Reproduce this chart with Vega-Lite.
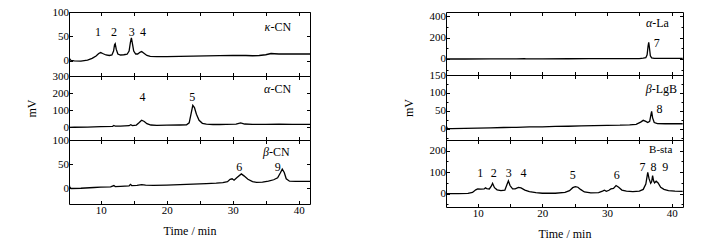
{
"$schema": "https://vega.github.io/schema/vega-lite/v6.json",
"padding": {"left": 24, "top": 5, "right": 5, "bottom": 2},
"config": {
  "font": "Liberation Serif",
  "view": {"stroke": "black", "strokeWidth": 1},
  "axis": {"labelFont": "Liberation Serif", "titleFont": "Liberation Serif", "labelFontSize": 11, "titleFontSize": 12, "titleFontWeight": "normal", "labelColor": "black", "titleColor": "black", "tickColor": "black", "domain": false, "grid": false, "labelFlush": false, "labelOverlap": false, "tickSize": -3.5, "labelPadding": 4},
  "text": {"font": "Liberation Serif", "color": "black"},
  "line": {"color": "black", "strokeWidth": 1.3}
},
"datasets": {
  "kappa": [
    {"t":5.2,"v":9},{"t":5.3,"v":4},{"t":5.5,"v":1},{"t":6,"v":0},{"t":7,"v":-0.5},{"t":8,"v":1.5},{"t":8.7,"v":5},{"t":9.3,"v":10},{"t":9.7,"v":15},{"t":10.0,"v":17},{"t":10.3,"v":15},{"t":10.8,"v":12},{"t":11.3,"v":11},{"t":11.7,"v":12},{"t":11.95,"v":20},{"t":12.1,"v":33},{"t":12.2,"v":35},{"t":12.35,"v":24},{"t":12.6,"v":14},{"t":13.0,"v":12},{"t":13.5,"v":12.5},{"t":14.0,"v":13.5},{"t":14.3,"v":20},{"t":14.5,"v":38},{"t":14.65,"v":47},{"t":14.8,"v":36},{"t":15.0,"v":20},{"t":15.3,"v":14},{"t":15.6,"v":14},{"t":16.0,"v":18},{"t":16.2,"v":19},{"t":16.5,"v":16},{"t":17.0,"v":11},{"t":17.5,"v":9},{"t":18.5,"v":8.5},{"t":20,"v":8.5},{"t":22,"v":9},{"t":24,"v":9.5},{"t":26,"v":10},{"t":28,"v":10.5},{"t":30,"v":11},{"t":32,"v":11},{"t":33,"v":10.5},{"t":34,"v":11},{"t":35,"v":12.5},{"t":35.8,"v":15},{"t":36.3,"v":14.5},{"t":37,"v":14},{"t":38,"v":14},{"t":40,"v":14},{"t":41.7,"v":14}
  ],
  "alphaCN": [
    {"t":5.2,"v":-2},{"t":6,"v":-1},{"t":8,"v":0},{"t":10,"v":2},{"t":11.8,"v":4},{"t":12.0,"v":9},{"t":12.2,"v":5},{"t":13,"v":6},{"t":14.3,"v":8},{"t":14.55,"v":14},{"t":14.8,"v":9},{"t":15.4,"v":12},{"t":15.8,"v":25},{"t":16.2,"v":40},{"t":16.6,"v":33},{"t":17.0,"v":20},{"t":17.6,"v":12},{"t":18.5,"v":10},{"t":20,"v":11},{"t":22,"v":12},{"t":23.0,"v":13},{"t":23.4,"v":25},{"t":23.7,"v":80},{"t":23.95,"v":128},{"t":24.2,"v":115},{"t":24.5,"v":75},{"t":24.9,"v":40},{"t":25.4,"v":22},{"t":26,"v":17},{"t":27,"v":15},{"t":28,"v":15},{"t":29,"v":15.5},{"t":30.5,"v":17},{"t":31.2,"v":25},{"t":31.8,"v":18},{"t":33,"v":16},{"t":35,"v":16},{"t":37,"v":16.5},{"t":39,"v":16},{"t":41.7,"v":16}
  ],
  "betaCN": [
    {"t":5.2,"v":12},{"t":5.3,"v":3},{"t":5.5,"v":0},{"t":7,"v":0.5},{"t":9,"v":2},{"t":10,"v":3},{"t":11.5,"v":3.5},{"t":12.0,"v":6},{"t":12.2,"v":4},{"t":13,"v":4.5},{"t":14.3,"v":5.5},{"t":14.5,"v":8.5},{"t":14.7,"v":6},{"t":15.5,"v":6.5},{"t":16.2,"v":8},{"t":16.8,"v":7},{"t":18,"v":6.5},{"t":20,"v":7},{"t":22,"v":8},{"t":24,"v":9},{"t":26,"v":10},{"t":27.5,"v":11},{"t":28.5,"v":12},{"t":29.2,"v":14},{"t":29.6,"v":19},{"t":29.9,"v":20},{"t":30.2,"v":17},{"t":30.6,"v":22},{"t":31.3,"v":30},{"t":31.7,"v":26},{"t":32.3,"v":19},{"t":33,"v":14},{"t":33.6,"v":12.5},{"t":34.5,"v":13},{"t":35.4,"v":15},{"t":36.2,"v":18},{"t":36.8,"v":22},{"t":37.2,"v":32},{"t":37.5,"v":40},{"t":37.8,"v":33},{"t":38.1,"v":20},{"t":38.6,"v":15},{"t":39.5,"v":14.5},{"t":41.7,"v":14.5}
  ],
  "alphaLa": [
    {"t":5.2,"v":0},{"t":8,"v":0},{"t":12,"v":0.5},{"t":16,"v":1},{"t":17.2,"v":3},{"t":17.5,"v":1},{"t":20,"v":1.5},{"t":24,"v":2},{"t":27.2,"v":4},{"t":27.5,"v":2.5},{"t":30,"v":3},{"t":33,"v":3},{"t":35,"v":4},{"t":35.6,"v":8},{"t":36.0,"v":12},{"t":36.2,"v":40},{"t":36.35,"v":120},{"t":36.45,"v":155},{"t":36.55,"v":110},{"t":36.7,"v":30},{"t":36.9,"v":10},{"t":37.3,"v":6},{"t":38,"v":5},{"t":40,"v":5},{"t":41.7,"v":5}
  ],
  "betaLgB": [
    {"t":5.2,"v":5},{"t":5.3,"v":0},{"t":6,"v":0},{"t":8,"v":0.5},{"t":10,"v":1},{"t":12,"v":2},{"t":14,"v":3},{"t":16,"v":3.5},{"t":18,"v":4.5},{"t":20,"v":5},{"t":22,"v":6},{"t":24,"v":6.5},{"t":26,"v":7.5},{"t":28,"v":8.5},{"t":30,"v":9},{"t":32,"v":9.5},{"t":33.5,"v":10.5},{"t":34.5,"v":12},{"t":35.2,"v":18},{"t":35.6,"v":23},{"t":36.0,"v":20},{"t":36.3,"v":17},{"t":36.6,"v":20},{"t":36.8,"v":40},{"t":36.9,"v":48},{"t":37.05,"v":30},{"t":37.3,"v":17},{"t":37.8,"v":14},{"t":39,"v":13.5},{"t":41.7,"v":13.5}
  ],
  "bsta": [
    {"t":5.2,"v":0},{"t":7,"v":0},{"t":8.5,"v":1},{"t":9.2,"v":6},{"t":9.7,"v":18},{"t":10.0,"v":22},{"t":10.5,"v":21},{"t":11.0,"v":22},{"t":11.2,"v":27},{"t":11.4,"v":24},{"t":11.8,"v":22},{"t":12.1,"v":35},{"t":12.3,"v":48},{"t":12.6,"v":28},{"t":13.0,"v":18},{"t":13.6,"v":14},{"t":14.2,"v":16},{"t":14.5,"v":40},{"t":14.75,"v":60},{"t":15.0,"v":38},{"t":15.4,"v":22},{"t":15.8,"v":22},{"t":16.3,"v":29},{"t":16.7,"v":27},{"t":17.3,"v":17},{"t":18,"v":10},{"t":19,"v":5},{"t":20,"v":2},{"t":22,"v":2},{"t":23.5,"v":6},{"t":24.2,"v":14},{"t":24.7,"v":28},{"t":25.1,"v":33},{"t":25.5,"v":30},{"t":25.9,"v":20},{"t":26.5,"v":8},{"t":27.5,"v":4},{"t":28.7,"v":5},{"t":29.3,"v":12},{"t":29.6,"v":16},{"t":29.9,"v":11},{"t":30.3,"v":16},{"t":30.6,"v":22},{"t":31.0,"v":25},{"t":31.4,"v":38},{"t":31.8,"v":30},{"t":32.3,"v":17},{"t":33,"v":12},{"t":34,"v":10},{"t":35,"v":12},{"t":35.6,"v":20},{"t":36.0,"v":45},{"t":36.3,"v":99},{"t":36.5,"v":70},{"t":36.75,"v":48},{"t":36.9,"v":55},{"t":37.05,"v":84},{"t":37.2,"v":60},{"t":37.35,"v":50},{"t":37.6,"v":58},{"t":37.9,"v":50},{"t":38.3,"v":30},{"t":38.8,"v":20},{"t":39.5,"v":14},{"t":40.5,"v":12},{"t":41.7,"v":11}
  ],
  "labels": [
    {"p":"kappa","x":9.6,"y":59,"s":"1"},{"p":"kappa","x":12.0,"y":59,"s":"2"},{"p":"kappa","x":14.7,"y":59,"s":"3"},{"p":"kappa","x":16.4,"y":59,"s":"4"},
    {"p":"alphaCN","x":16.35,"y":178,"s":"4"},{"p":"alphaCN","x":23.85,"y":178,"s":"5"},
    {"p":"betaCN","x":31.0,"y":44,"s":"6"},{"p":"betaCN","x":36.8,"y":44,"s":"9"},
    {"p":"alphaLa","x":37.7,"y":154,"s":"7"},
    {"p":"betaLgB","x":38.1,"y":56,"s":"8"},
    {"p":"bsta","x":10.4,"y":96,"s":"1"},{"p":"bsta","x":12.5,"y":96,"s":"2"},{"p":"bsta","x":14.8,"y":96,"s":"3"},{"p":"bsta","x":17.1,"y":96,"s":"4"},
    {"p":"bsta","x":24.7,"y":85,"s":"5"},{"p":"bsta","x":31.5,"y":85,"s":"6"},
    {"p":"bsta","x":35.5,"y":124,"s":"7"},{"p":"bsta","x":37.2,"y":124,"s":"8"},{"p":"bsta","x":39.0,"y":124,"s":"9"}
  ],
  "names": [
    {"p":"kappa","x":35.7,"y":70,"g":"κ","r":"-CN"},
    {"p":"alphaCN","x":35.7,"y":221,"g":"α","r":"-CN"},
    {"p":"betaCN","x":35.5,"y":76,"g":"β","r":"-CN"},
    {"p":"alphaLa","x":37.0,"y":339,"g":"α","r":"-La"},
    {"p":"betaLgB","x":36.9,"y":112,"g":"β","r":"-LgB"},
    {"p":"bsta","x":36.5,"y":203,"g":"","r":"B-sta"}
  ]
},
"spacing": 90,
"hconcat": [
  {"spacing": 0, "bounds": "flush", "vconcat": [
    {"width": 241, "height": 64,
     "layer": [
       {"data": {"name": "kappa"}, "mark": {"type": "line", "clip": true},
        "encoding": {
          "x": {"field": "t", "type": "quantitative", "scale": {"domain": [5.2, 41.7], "nice": false, "zero": false}, "axis": {"orient": "bottom", "values": [10,15,20,25,30,35,40], "labels": false, "title": null}},
          "y": {"field": "v", "type": "quantitative", "scale": {"domain": [-31, 100], "nice": false, "zero": false}, "axis": {"orient": "left", "values": [0,50,100], "title": null}}}},
       {"data": {"name": "kappa"}, "mark": {"type": "line", "opacity": 0},
        "encoding": {
          "x": {"field": "t", "type": "quantitative", "axis": {"orient": "top", "values": [10,15,20,25,30,35,40], "labels": false, "title": null}},
          "y": {"field": "v", "type": "quantitative", "axis": {"orient": "right", "values": [0,50,100], "labels": false, "title": null}}}},
       {"data": {"name": "labels"}, "transform": [{"filter": "datum.p === 'kappa'"}], "mark": {"type": "text", "fontSize": 12},
        "encoding": {"x": {"field": "x", "type": "quantitative", "axis": null}, "y": {"field": "y", "type": "quantitative", "axis": null}, "text": {"field": "s"}}},
       {"data": {"name": "names"}, "transform": [{"filter": "datum.p === 'kappa'"}], "mark": {"type": "text", "fontSize": 12, "fontStyle": "italic", "align": "right"},
        "encoding": {"x": {"field": "x", "type": "quantitative", "axis": null}, "y": {"field": "y", "type": "quantitative", "axis": null}, "text": {"field": "g"}}},
       {"data": {"name": "names"}, "transform": [{"filter": "datum.p === 'kappa'"}], "mark": {"type": "text", "fontSize": 12, "align": "left"},
        "encoding": {"x": {"field": "x", "type": "quantitative", "axis": null}, "y": {"field": "y", "type": "quantitative", "axis": null}, "text": {"field": "r"}}}
     ],
     "resolve": {"axis": {"x": "independent", "y": "independent"}}},
    {"width": 241, "height": 64,
     "layer": [
       {"data": {"name": "alphaCN"}, "mark": {"type": "line", "clip": true},
        "encoding": {
          "x": {"field": "t", "type": "quantitative", "scale": {"domain": [5.2, 41.7], "nice": false, "zero": false}, "axis": {"orient": "bottom", "values": [10,15,20,25,30,35,40], "labels": false, "title": null}},
          "y": {"field": "v", "type": "quantitative", "scale": {"domain": [-76, 300], "nice": false, "zero": false}, "axis": {"orient": "left", "values": [0,100,200,300], "title": "mV", "titlePadding": 14}}}},
       {"data": {"name": "alphaCN"}, "mark": {"type": "line", "opacity": 0},
        "encoding": {
          "x": {"field": "t", "type": "quantitative", "axis": {"orient": "top", "values": [10,15,20,25,30,35,40], "labels": false, "title": null}},
          "y": {"field": "v", "type": "quantitative", "axis": {"orient": "right", "values": [0,100,200,300], "labels": false, "title": null}}}},
       {"data": {"name": "labels"}, "transform": [{"filter": "datum.p === 'alphaCN'"}], "mark": {"type": "text", "fontSize": 12},
        "encoding": {"x": {"field": "x", "type": "quantitative", "axis": null}, "y": {"field": "y", "type": "quantitative", "axis": null}, "text": {"field": "s"}}},
       {"data": {"name": "names"}, "transform": [{"filter": "datum.p === 'alphaCN'"}], "mark": {"type": "text", "fontSize": 12, "fontStyle": "italic", "align": "right"},
        "encoding": {"x": {"field": "x", "type": "quantitative", "axis": null}, "y": {"field": "y", "type": "quantitative", "axis": null}, "text": {"field": "g"}}},
       {"data": {"name": "names"}, "transform": [{"filter": "datum.p === 'alphaCN'"}], "mark": {"type": "text", "fontSize": 12, "align": "left"},
        "encoding": {"x": {"field": "x", "type": "quantitative", "axis": null}, "y": {"field": "y", "type": "quantitative", "axis": null}, "text": {"field": "r"}}}
     ],
     "resolve": {"axis": {"x": "independent", "y": "independent"}}},
    {"width": 241, "height": 64,
     "layer": [
       {"data": {"name": "betaCN"}, "mark": {"type": "line", "clip": true},
        "encoding": {
          "x": {"field": "t", "type": "quantitative", "scale": {"domain": [5.2, 41.7], "nice": false, "zero": false}, "axis": {"orient": "bottom", "values": [10,15,20,25,30,35,40], "labelExpr": "datum.value % 10 === 0 ? datum.label : ''", "title": "Time / min", "titlePadding": 10}},
          "y": {"field": "v", "type": "quantitative", "scale": {"domain": [-32, 100], "nice": false, "zero": false}, "axis": {"orient": "left", "values": [0,50,100], "title": null}}}},
       {"data": {"name": "betaCN"}, "mark": {"type": "line", "opacity": 0},
        "encoding": {
          "x": {"field": "t", "type": "quantitative", "axis": {"orient": "top", "values": [10,15,20,25,30,35,40], "labels": false, "title": null}},
          "y": {"field": "v", "type": "quantitative", "axis": {"orient": "right", "values": [0,50,100], "labels": false, "title": null}}}},
       {"data": {"name": "labels"}, "transform": [{"filter": "datum.p === 'betaCN'"}], "mark": {"type": "text", "fontSize": 12},
        "encoding": {"x": {"field": "x", "type": "quantitative", "axis": null}, "y": {"field": "y", "type": "quantitative", "axis": null}, "text": {"field": "s"}}},
       {"data": {"name": "names"}, "transform": [{"filter": "datum.p === 'betaCN'"}], "mark": {"type": "text", "fontSize": 12, "fontStyle": "italic", "align": "right"},
        "encoding": {"x": {"field": "x", "type": "quantitative", "axis": null}, "y": {"field": "y", "type": "quantitative", "axis": null}, "text": {"field": "g"}}},
       {"data": {"name": "names"}, "transform": [{"filter": "datum.p === 'betaCN'"}], "mark": {"type": "text", "fontSize": 12, "align": "left"},
        "encoding": {"x": {"field": "x", "type": "quantitative", "axis": null}, "y": {"field": "y", "type": "quantitative", "axis": null}, "text": {"field": "r"}}}
     ],
     "resolve": {"axis": {"x": "independent", "y": "independent"}}}
  ]},
  {"spacing": 0, "bounds": "flush", "vconcat": [
    {"width": 237, "height": 63,
     "layer": [
       {"data": {"name": "alphaLa"}, "mark": {"type": "line", "clip": true},
        "encoding": {
          "x": {"field": "t", "type": "quantitative", "scale": {"domain": [5.1, 41.75], "nice": false, "zero": false}, "axis": {"orient": "bottom", "values": [10,15,20,25,30,35,40], "labels": false, "title": null}},
          "y": {"field": "v", "type": "quantitative", "scale": {"domain": [-150, 440], "nice": false, "zero": false}, "axis": {"orient": "left", "values": [-100,0,100,200,300,400], "labelExpr": "datum.value % 200 === 0 ? datum.label : ''", "tickSize": {"condition": {"test": "datum.value % 200 === 0", "value": -3.5}, "value": -2}, "title": null}}}},
       {"data": {"name": "alphaLa"}, "mark": {"type": "line", "opacity": 0},
        "encoding": {
          "x": {"field": "t", "type": "quantitative", "axis": {"orient": "top", "values": [10,15,20,25,30,35,40], "labels": false, "title": null}},
          "y": {"field": "v", "type": "quantitative", "axis": {"orient": "right", "values": [-100,0,100,200,300,400], "labels": false, "title": null, "tickSize": {"condition": {"test": "datum.value % 200 === 0", "value": -3.5}, "value": -2}}}}},
       {"data": {"name": "labels"}, "transform": [{"filter": "datum.p === 'alphaLa'"}], "mark": {"type": "text", "fontSize": 12},
        "encoding": {"x": {"field": "x", "type": "quantitative", "axis": null}, "y": {"field": "y", "type": "quantitative", "axis": null}, "text": {"field": "s"}}},
       {"data": {"name": "names"}, "transform": [{"filter": "datum.p === 'alphaLa'"}], "mark": {"type": "text", "fontSize": 12, "fontStyle": "italic", "align": "right"},
        "encoding": {"x": {"field": "x", "type": "quantitative", "axis": null}, "y": {"field": "y", "type": "quantitative", "axis": null}, "text": {"field": "g"}}},
       {"data": {"name": "names"}, "transform": [{"filter": "datum.p === 'alphaLa'"}], "mark": {"type": "text", "fontSize": 12, "align": "left"},
        "encoding": {"x": {"field": "x", "type": "quantitative", "axis": null}, "y": {"field": "y", "type": "quantitative", "axis": null}, "text": {"field": "r"}}}
     ],
     "resolve": {"axis": {"x": "independent", "y": "independent"}}},
    {"width": 237, "height": 65,
     "layer": [
       {"data": {"name": "betaLgB"}, "mark": {"type": "line", "clip": true},
        "encoding": {
          "x": {"field": "t", "type": "quantitative", "scale": {"domain": [5.1, 41.75], "nice": false, "zero": false}, "axis": {"orient": "bottom", "values": [10,15,20,25,30,35,40], "labels": false, "title": null}},
          "y": {"field": "v", "type": "quantitative", "scale": {"domain": [-32, 150], "nice": false, "zero": false}, "axis": {"orient": "left", "values": [-25,0,25,50,75,100,125,150], "labelExpr": "datum.value % 50 === 0 ? datum.label : ''", "tickSize": {"condition": {"test": "datum.value % 50 === 0", "value": -3.5}, "value": -2}, "title": "mV", "titlePadding": 14}}}},
       {"data": {"name": "betaLgB"}, "mark": {"type": "line", "opacity": 0},
        "encoding": {
          "x": {"field": "t", "type": "quantitative", "axis": {"orient": "top", "values": [10,15,20,25,30,35,40], "labels": false, "title": null}},
          "y": {"field": "v", "type": "quantitative", "axis": {"orient": "right", "values": [-25,0,25,50,75,100,125,150], "labels": false, "title": null, "tickSize": {"condition": {"test": "datum.value % 50 === 0", "value": -3.5}, "value": -2}}}}},
       {"data": {"name": "labels"}, "transform": [{"filter": "datum.p === 'betaLgB'"}], "mark": {"type": "text", "fontSize": 12},
        "encoding": {"x": {"field": "x", "type": "quantitative", "axis": null}, "y": {"field": "y", "type": "quantitative", "axis": null}, "text": {"field": "s"}}},
       {"data": {"name": "names"}, "transform": [{"filter": "datum.p === 'betaLgB'"}], "mark": {"type": "text", "fontSize": 12, "fontStyle": "italic", "align": "right"},
        "encoding": {"x": {"field": "x", "type": "quantitative", "axis": null}, "y": {"field": "y", "type": "quantitative", "axis": null}, "text": {"field": "g"}}},
       {"data": {"name": "names"}, "transform": [{"filter": "datum.p === 'betaLgB'"}], "mark": {"type": "text", "fontSize": 12, "align": "left"},
        "encoding": {"x": {"field": "x", "type": "quantitative", "axis": null}, "y": {"field": "y", "type": "quantitative", "axis": null}, "text": {"field": "r"}}}
     ],
     "resolve": {"axis": {"x": "independent", "y": "independent"}}},
    {"width": 237, "height": 67,
     "layer": [
       {"data": {"name": "bsta"}, "mark": {"type": "line", "clip": true},
        "encoding": {
          "x": {"field": "t", "type": "quantitative", "scale": {"domain": [5.1, 41.75], "nice": false, "zero": false}, "axis": {"orient": "bottom", "values": [10,15,20,25,30,35,40], "labelExpr": "datum.value % 10 === 0 ? datum.label : ''", "title": "Time / min", "titlePadding": 10}},
          "y": {"field": "v", "type": "quantitative", "scale": {"domain": [-62, 250], "nice": false, "zero": false}, "axis": {"orient": "left", "values": [-50,0,50,100,150,200,250], "labelExpr": "datum.value % 100 === 0 ? datum.label : ''", "tickSize": {"condition": {"test": "datum.value % 100 === 0", "value": -3.5}, "value": -2}, "title": null}}}},
       {"data": {"name": "bsta"}, "mark": {"type": "line", "opacity": 0},
        "encoding": {
          "x": {"field": "t", "type": "quantitative", "axis": {"orient": "top", "values": [10,15,20,25,30,35,40], "labels": false, "title": null}},
          "y": {"field": "v", "type": "quantitative", "axis": {"orient": "right", "values": [-50,0,50,100,150,200,250], "labels": false, "title": null, "tickSize": {"condition": {"test": "datum.value % 100 === 0", "value": -3.5}, "value": -2}}}}},
       {"data": {"name": "labels"}, "transform": [{"filter": "datum.p === 'bsta'"}], "mark": {"type": "text", "fontSize": 12},
        "encoding": {"x": {"field": "x", "type": "quantitative", "axis": null}, "y": {"field": "y", "type": "quantitative", "axis": null}, "text": {"field": "s"}}},
       {"data": {"name": "names"}, "transform": [{"filter": "datum.p === 'bsta'"}], "mark": {"type": "text", "fontSize": 11, "align": "left"},
        "encoding": {"x": {"field": "x", "type": "quantitative", "axis": null}, "y": {"field": "y", "type": "quantitative", "axis": null}, "text": {"field": "r"}}}
     ],
     "resolve": {"axis": {"x": "independent", "y": "independent"}}}
  ]}
]
}
